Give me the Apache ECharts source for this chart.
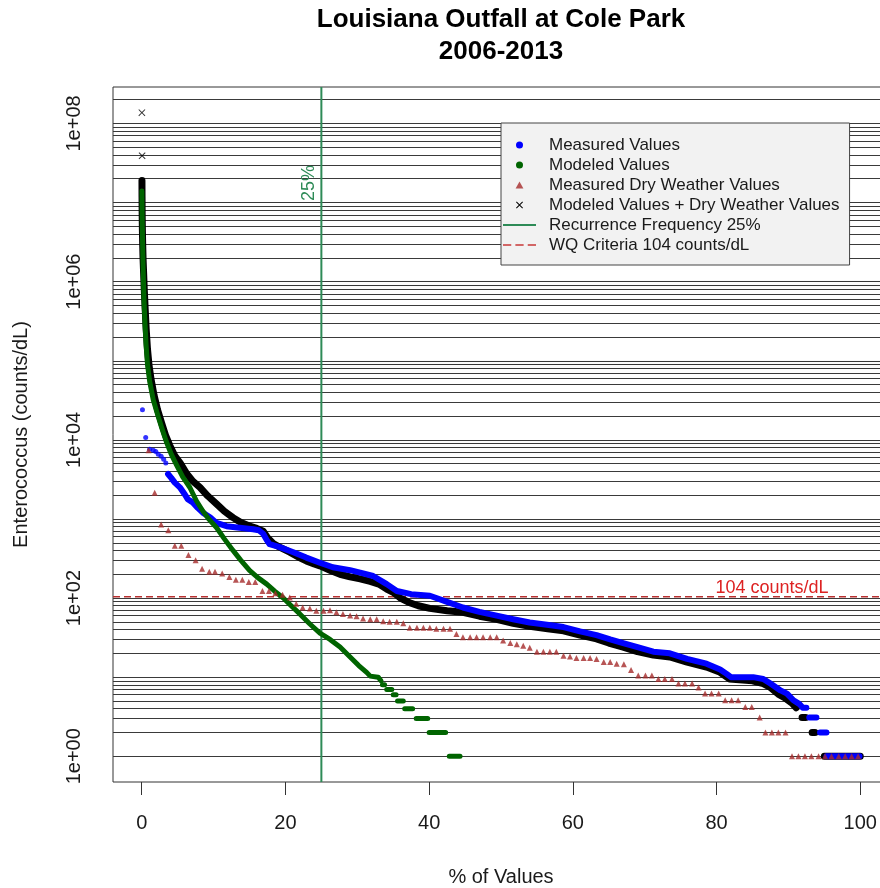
<!DOCTYPE html>
<html>
<head>
<meta charset="utf-8">
<script src="https://cdn.jsdelivr.net/npm/echarts@6/dist/echarts.min.js"></script>
<style>html,body{margin:0;padding:0;background:#fff}#c{width:880px;height:888px}</style>
</head>
<body>
<div id="c"></div>
<script>
// ---- data ----
const GAP = ['-', '-']; // break in a drawn band (stepped low counts)

// Measured Values (blue): isolated high points, then the dense band
const measuredSparse = [[0.1,24000],[0.55,10700],[1.1,7600],[1.6,7400],[1.95,7100],[2.3,6600],[2.7,6200],[3.05,5700],[3.35,5100]];
const measuredBand = [[3.66,3700],[4.1,3310],[4.6,2880],[5.3,2510],[6.0,2040],[6.4,1780],[7.1,1620],[7.8,1380],[8.5,1200],[9.5,1050],[10.4,890],[11.8,810],[13.6,775],[15.5,740],[16.3,720],[16.9,650],[17.4,540],[17.8,480],[19.2,440],[21.1,380],[22.9,325],[24.8,280],[26.6,245],[29.0,225],[30.4,210],[32.2,190],[34.1,150],[35.5,123],[37.5,112],[40.1,107],[42.4,90],[44.7,76],[47.0,67],[49.4,60],[51.7,54],[54.0,49],[56.4,46],[58.7,43],[61.0,38],[63.3,34],[65.2,30],[67.0,27],[69.0,24],[71.2,21],[73.5,20],[75.9,17],[78.6,14.8],[80.5,12.5],[81.4,11],[82.0,10],[85.1,10],[86.5,9.5],[87.5,8.3],[88.9,6.8],[89.8,6.2],[90.7,5.1],[91.5,4.6],[92.0,4.1],[92.5,4.1],GAP,[92.9,3.1],[93.9,3.1],GAP,[94.4,2],[95.3,2],GAP,[95.3,1],[99.9,1]];

// Modeled Values (green)
const modeledBand = [[0.02,1.4e7],[0.05,8e6],[0.08,5e6],[0.12,3e6],[0.17,1.8e6],[0.24,1.0e6],[0.33,5.5e5],[0.45,3e5],[0.6,1.6e5],[0.8,9e4],[1.1,5.5e4],[1.6,3.2e4],[2.2,2.1e4],[2.8,1.4e4],[3.4,9600],[4.1,6600],[4.8,4900],[5.7,3400],[6.7,2500],[7.6,1700],[8.5,1260],[9.4,980],[10.4,780],[11.5,560],[12.7,400],[13.8,300],[15.0,224],[16.2,180],[17.4,150],[18.5,122],[19.7,100],[20.8,80],[22.0,63],[23.4,47],[24.8,36],[26.2,30],[27.6,24],[29.0,18],[30.2,14],[31.3,11.5],[31.8,10.3],[32.9,10],[33.3,9],GAP,[33.5,8],[33.8,8],GAP,[34.1,7],[34.8,7],GAP,[35.0,6],[35.4,6],GAP,[35.6,5],[36.4,5],GAP,[36.6,4],[37.7,4],GAP,[38.2,3],[39.8,3],GAP,[40.0,2],[42.3,2],GAP,[42.8,1],[44.3,1]];

// Measured Dry Weather Values (brown triangles)
const dryWeather = [[0.95,7400],[1.8,2140],[2.7,850],[3.7,720],[4.6,460],[5.5,460],[6.5,350],[7.5,300],[8.4,235],[9.4,215],[10.2,215],[11.2,205],[12.2,185],[13.1,170],[14.0,170],[14.9,160],[15.8,160],[16.8,123],[17.7,123],[18.6,115],[19.6,110],[20.6,102],[21.5,85],[22.4,76],[23.4,74],[24.3,69],[25.3,69],[26.2,70],[27.1,66],[28.0,63],[29.0,60],[29.9,59],[30.8,55],[31.8,54],[32.7,54],[33.6,51],[34.5,50],[35.5,50],[36.4,48],[37.3,42],[38.3,42],[39.2,42],[40.1,42],[41.0,41],[42.0,41],[42.9,41],[43.8,35],[44.7,32],[45.7,32],[46.6,32],[47.5,32],[48.5,32],[49.4,32],[50.3,29],[51.3,27],[52.2,26],[53.1,25],[54.0,23.5],[55.0,21],[55.9,21],[56.8,21],[57.7,21],[58.7,18.6],[59.6,18.2],[60.5,17.5],[61.5,17.5],[62.4,17.5],[63.3,17],[64.3,15.5],[65.2,15.5],[66.1,14.8],[67.1,14.6],[68.1,12.3],[69.1,10.5],[70.1,10.5],[71.0,10.5],[71.9,9.5],[72.8,9.5],[73.8,9.5],[74.7,8.3],[75.6,8.3],[76.6,8.3],[77.5,7.4],[78.4,6.2],[79.3,6.2],[80.3,6.2],[81.2,5.1],[82.1,5.1],[83.0,5.1],[84.0,4.2],[84.9,4.2],[86.0,3.1],[86.8,2],[87.7,2],[88.6,2],[89.6,2],[90.5,1],[91.4,1],[92.3,1],[93.2,1],[94.2,1],[95.1,1],[96.0,1],[97.0,1],[97.9,1],[98.8,1],[99.7,1]];

// Modeled Values + Dry Weather Values (black x)
const modeledDryOutliers = [[0.02,1.37e8],[0.05,3.9e7]];
const modeledDryBand = [[0.03,1.9e7],[0.04,1.2e7],[0.06,7e6],[0.09,4.5e6],[0.13,3e6],[0.18,2e6],[0.26,1.3e6],[0.35,8e5],[0.48,4.5e5],[0.62,2.5e5],[0.8,1.4e5],[1.0,9e4],[1.3,5.8e4],[1.7,3.7e4],[2.2,2.4e4],[2.8,1.6e4],[3.3,1.15e4],[3.9,8500],[4.6,6300],[5.4,5000],[6.2,3800],[7.1,3000],[8.1,2500],[9.2,1950],[10.4,1550],[11.5,1250],[12.7,1040],[13.8,900],[15.0,815],[16.0,760],[16.9,700],[17.5,580],[18.3,490],[19.4,430],[20.6,380],[21.8,330],[22.9,295],[24.0,270],[24.8,255],[26.2,225],[27.6,200],[29.0,185],[30.4,175],[31.8,162],[33.0,150],[34.1,130],[35.0,118],[36.0,100],[37.2,88],[38.5,80],[40.1,74],[42.5,69],[44.7,66],[47.0,59],[49.4,54],[51.7,48],[54.0,44],[56.5,41],[58.7,38.5],[61.0,34],[63.3,30.5],[65.0,27],[67.0,24],[69.0,21],[71.2,19],[73.5,18],[75.9,15.5],[78.6,13.4],[80.5,11.5],[81.8,9.5],[85.0,9],[86.5,8.3],[87.5,7.4],[88.6,6.1],[89.6,5.4],[90.5,4.7],[91.1,4.1],GAP,[91.9,3.1],[92.4,3.1],GAP,[93.3,2],[93.7,2],GAP,[95.0,1],[100,1]];

const WQ_CRITERIA = 104;
const RECURRENCE = 25;
const X_RANGE = [-4, 104];
const Y_RANGE = [0.4727, 2.89e8];
const X_TICKS = [0, 20, 40, 60, 80, 100];
const Y_TICKS = [1, 1e2, 1e4, 1e6, 1e8];
const GRID_VALUES = [];
for (let p = 0; p <= 7; p++) for (let k = 1; k <= 9; k++) GRID_VALUES.push(k * Math.pow(10, p));
GRID_VALUES.push(1e8, 2e8);

const NAMES = ['Measured Values','Modeled Values','Measured Dry Weather Values','Modeled Values + Dry Weather Values','Recurrence Frequency 25%','WQ Criteria 104 counts/dL'];

// ---- chart ----
const FONT = 'Liberation Sans, Arial, sans-serif';
const XPATH = 'path://M0,1L1,0L5,4L9,0L10,1L6,5L10,9L9,10L5,6L1,10L0,9L4,5Z';
const TRIPATH = 'path://M5,0L10,9L0,9Z';
const chart = echarts.init(document.getElementById('c'), null, {renderer: 'canvas'});
chart.setOption({
  animation: false,
  backgroundColor: '#ffffff',
  title: {
    text: 'Louisiana Outfall at Cole Park\n2006-2013',
    left: 501, top: 4, padding: 0, textAlign: 'center',
    textStyle: {fontFamily: FONT, fontSize: 26, fontWeight: 'bold', color: '#000', lineHeight: 32}
  },
  grid: {left: 113, top: 87, right: -9, bottom: 106, show: true, borderColor: '#333', borderWidth: 1, backgroundColor: 'transparent', containLabel: false, outerBoundsMode: 'none'},
  legend: {
    orient: 'vertical', left: 501, top: 123, padding: [12, 10, 10, 2],
    itemGap: 0, itemWidth: 33, itemHeight: 7, symbolKeepAspect: true,
    backgroundColor: '#F2F2F2', borderColor: '#444', borderWidth: 1, borderRadius: 0,
    selectedMode: false,
    textStyle: {fontFamily: FONT, fontSize: 17, color: '#1a1a1a', lineHeight: 20, padding: [0, 0, 0, 8]},
    data: [
      {name: NAMES[0], icon: 'circle', symbolKeepAspect: true, itemStyle: {color: '#0000FF', borderWidth: 0}},
      {name: NAMES[1], icon: 'circle', symbolKeepAspect: true, itemStyle: {color: '#006400', borderWidth: 0}},
      {name: NAMES[2], icon: TRIPATH, symbolKeepAspect: true, itemStyle: {color: '#A52A2A', borderWidth: 0}},
      {name: NAMES[3], icon: XPATH, symbolKeepAspect: true, itemStyle: {color: '#000', borderWidth: 0}},
      {name: NAMES[4], icon: 'path://M0,0H33V2H0Z', itemStyle: {color: '#2E8B57', borderWidth: 0}},
      {name: NAMES[5], icon: 'path://M0,0H8V1.5H0Z M12,0H20V1.5H12Z M24,0H32V1.5H24Z', itemStyle: {color: '#C83838', borderWidth: 0}}
    ]
  },
  xAxis: {
    type: 'value', min: X_RANGE[0], max: X_RANGE[1],
    axisLine: {show: false}, splitLine: {show: false},
    axisTick: {show: true, length: 13, customValues: X_TICKS, lineStyle: {color: '#333', width: 1}},
    axisLabel: {customValues: X_TICKS, fontFamily: FONT, fontSize: 20, color: '#1a1a1a', margin: 31, lineHeight: 21},
    name: '% of Values', nameLocation: 'middle', nameGap: 85,
    nameTextStyle: {fontFamily: FONT, fontSize: 20, color: '#1a1a1a'}
  },
  yAxis: {
    type: 'log', logBase: 10, min: Y_RANGE[0], max: Y_RANGE[1],
    axisLine: {show: false}, splitLine: {show: false}, minorTick: {show: false}, minorSplitLine: {show: false},
    axisTick: {show: true, length: 13, customValues: Y_TICKS, lineStyle: {color: '#333', width: 1}},
    axisLabel: {
      customValues: Y_TICKS, rotate: 90, fontFamily: FONT, fontSize: 20, color: '#1a1a1a', margin: 29,
      formatter: v => '1e+' + String(Math.round(Math.log10(v))).padStart(2, '0')
    },
    name: 'Enterococcus (counts/dL)', nameLocation: 'middle', nameGap: 82,
    nameTextStyle: {fontFamily: FONT, fontSize: 20, color: '#1a1a1a'}
  },
  series: [
    { type: 'line', data: [], silent: true, z: 1,
      markLine: { z: 1, silent: true, animation: false, symbol: ['none', 'none'], label: {show: false},
        lineStyle: {color: '#3a3a3a', width: 1, type: 'solid'}, emphasis: {disabled: true},
        data: GRID_VALUES.map(v => ({yAxis: v})) } },
    { type: 'line', name: NAMES[5], data: [[X_RANGE[0], WQ_CRITERIA], [X_RANGE[1], WQ_CRITERIA]], symbol: 'none', silent: true, z: 2,
      lineStyle: {color: '#B83030', width: 1.5, type: [7, 4]} },
    { type: 'line', name: NAMES[4], data: [[RECURRENCE, Y_RANGE[0]], [RECURRENCE, Y_RANGE[1]]], symbol: 'none', silent: true, z: 2,
      lineStyle: {color: '#2E8B57', width: 2} },
    { type: 'line', name: NAMES[3], data: modeledDryBand, symbol: 'none', silent: true, z: 3, color: '#000',
      lineStyle: {color: '#000', width: 7, cap: 'round', join: 'round'} },
    { type: 'scatter', name: NAMES[3], data: modeledDryOutliers, symbol: XPATH, symbolSize: 7, silent: true, z: 3,
      itemStyle: {color: '#000'} },
    { type: 'line', name: NAMES[0], data: measuredBand, symbol: 'none', silent: true, z: 4, color: '#0000FF',
      lineStyle: {color: '#0000FF', width: 6, cap: 'round', join: 'round'} },
    { type: 'scatter', name: NAMES[0], data: measuredSparse, symbol: 'circle', symbolSize: 5, silent: true, z: 4,
      itemStyle: {color: '#0000FF'} },
    { type: 'line', name: NAMES[1], data: modeledBand, symbol: 'none', silent: true, z: 5, color: '#006400',
      lineStyle: {color: '#006400', width: 5, cap: 'round', join: 'round'} },
    { type: 'scatter', name: NAMES[2], data: dryWeather, symbol: 'triangle', symbolSize: 6, silent: true, z: 6,
      itemStyle: {color: '#A52A2A'} }
  ],
  graphic: [
    {type: 'text', x: 309, y: 183, rotation: Math.PI / 2, z: 10,
      style: {text: '25%', fill: '#2E8B57', font: '18px ' + FONT, align: 'center', verticalAlign: 'middle'}},
    {type: 'text', x: 772, y: 588, z: 10,
      style: {text: '104 counts/dL', fill: '#DD2222', font: '18px ' + FONT, align: 'center', verticalAlign: 'middle'}}
  ]
});
</script>
</body>
</html>
